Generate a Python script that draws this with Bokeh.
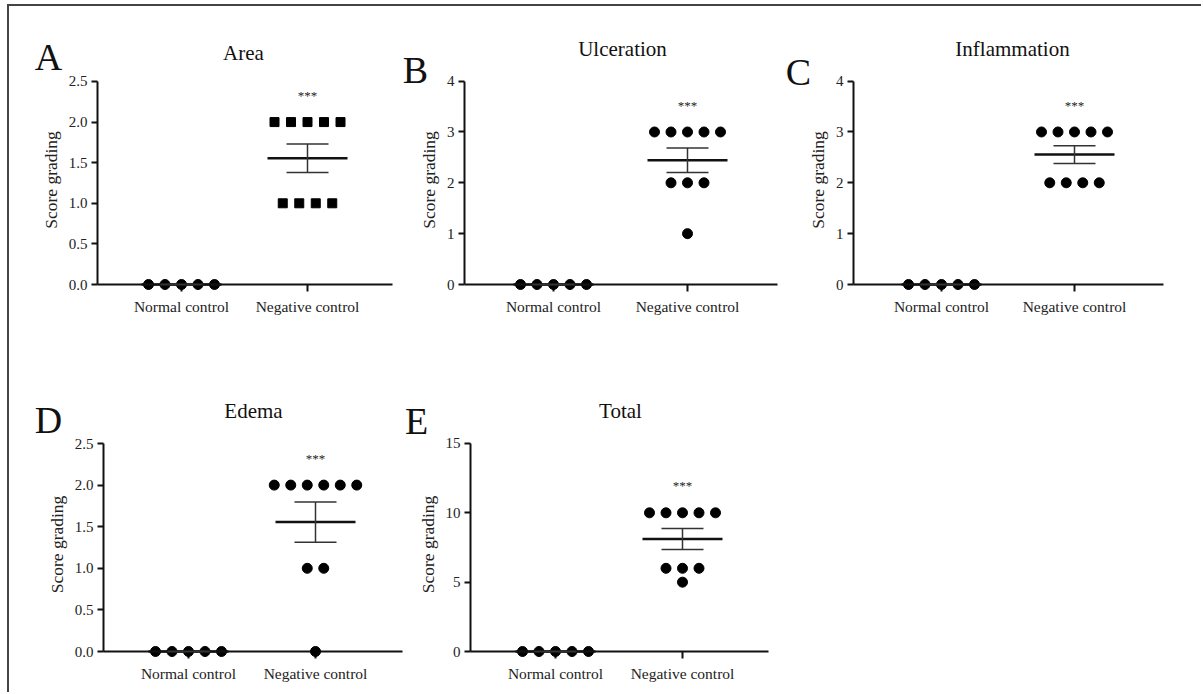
from bokeh.plotting import figure
from bokeh.models import Range1d, FixedTicker, NumeralTickFormatter
from bokeh.layouts import row, column
from bokeh.embed import file_html
from bokeh.resources import INLINE
from bokeh.core.properties import value
import numpy as np

# ---------------- data ----------------
categories = ["Normal control", "Negative control"]
panel_letters = ["A", "B", "C", "D", "E"]
panel_titles = ["Area", "Ulceration", "Inflammation", "Edema", "Total"]
significance = "***"

area_normal = [0, 0, 0, 0, 0]
area_negative = [2, 2, 2, 2, 2, 1, 1, 1, 1]
ulceration_normal = [0, 0, 0, 0, 0]
ulceration_negative = [3, 3, 3, 3, 3, 2, 2, 2, 1]
inflammation_normal = [0, 0, 0, 0, 0]
inflammation_negative = [3, 3, 3, 3, 3, 2, 2, 2, 2]
edema_normal = [0, 0, 0, 0, 0]
edema_negative = [2, 2, 2, 2, 2, 2, 1, 1, 0]
total_normal = [0, 0, 0, 0, 0]
total_negative = [10, 10, 10, 10, 10, 6, 6, 6, 5]

area_ticks = [0, 0.5, 1.0, 1.5, 2.0, 2.5]
ulceration_ticks = [0, 1, 2, 3, 4]
inflammation_ticks = [0, 1, 2, 3, 4]
edema_ticks = [0, 0.5, 1.0, 1.5, 2.0, 2.5]
total_ticks = [0, 5, 10, 15]

SERIF = "Liberation Serif"
INK = "#111111"


def beeswarm(vals, center, step):
    vals = np.asarray(vals, dtype=float)
    xs = np.zeros(len(vals))
    for v in np.unique(vals):
        idx = np.where(vals == v)[0]
        k = len(idx)
        xs[idx] = center + (np.arange(k) - (k - 1) / 2.0) * step
    return xs


def make_panel(letter, title, normal, negative, ticks, fmt, neg_marker, geo):
    fx, fy, w, h = geo["fig"]
    ax, ar = geo["axis_x"], geo["axis_right"]
    top_px, zero_px = geo["top_px"], geo["zero_px"]
    c1, c2 = geo["cats_px"]
    ymax = ticks[-1]

    ux = float(c2 - c1)
    x0 = 1 - (c1 - ax) / ux
    x1 = 2 + (ar - c2) / ux
    uy = (zero_px - top_px) / ymax
    frame_top = top_px - 6
    y1 = ymax + (top_px - frame_top) / uy

    def dx(px):
        return x0 + (px - ax) / ux

    def dy(py):
        return (zero_px - py) / uy

    p = figure(width=w, height=h, x_range=Range1d(x0, x1), y_range=Range1d(0, y1),
               output_backend="svg", toolbar_location=None,
               min_border_left=ax - fx, min_border_right=fx + w - ar,
               min_border_top=frame_top - fy, min_border_bottom=fy + h - zero_px)
    p.xgrid.visible = False
    p.ygrid.visible = False
    p.outline_line_color = None
    p.background_fill_color = "white"
    p.border_fill_color = "white"

    # axes
    for a in (p.xaxis[0], p.yaxis[0]):
        a.axis_line_width = 2
        a.axis_line_color = INK
        a.major_tick_line_width = 2
        a.major_tick_line_color = INK
        a.major_tick_in = 0
        a.minor_tick_line_color = None
        a.major_label_text_font = SERIF
        a.major_label_text_color = "#222222"
    p.xaxis.ticker = FixedTicker(ticks=[1, 2])
    p.xaxis.major_label_overrides = {1: categories[0], 2: categories[1]}
    p.xaxis.major_tick_out = 7
    p.xaxis.major_label_standoff = 6
    p.xaxis.major_label_text_font_size = "15.5px"

    p.yaxis.ticker = FixedTicker(ticks=ticks)
    p.yaxis.formatter = NumeralTickFormatter(format=fmt)
    p.yaxis.bounds = (0, ymax)
    p.yaxis.major_tick_out = 6
    p.yaxis.major_label_standoff = 4
    p.yaxis.major_label_text_font_size = "15px"
    p.yaxis.axis_label = "Score grading"
    p.yaxis.axis_label_text_font = SERIF
    p.yaxis.axis_label_text_font_style = "normal"
    p.yaxis.axis_label_text_font_size = "17.5px"
    p.yaxis.axis_label_text_color = "#222222"
    p.yaxis.axis_label_standoff = 5

    step = 16.5 / ux
    # points
    xs_n = beeswarm(normal, 1, step)
    xs_g = beeswarm(negative, 2, step)
    p.scatter(xs_n, normal, marker="circle", size=10, fill_color="black",
              line_color="black", level="overlay")
    p.scatter(xs_g, negative, marker=neg_marker, size=10 if neg_marker == "circle" else 9,
              fill_color="black", line_color="black", level="overlay")

    # mean +/- SEM
    for cx, vals in ((1, normal), (2, negative)):
        v = np.asarray(vals, dtype=float)
        m = v.mean()
        sem = v.std(ddof=1) / np.sqrt(len(v))
        hw, cw = 40 / ux, 21 / ux
        p.segment(x0=[cx - hw], y0=[m], x1=[cx + hw], y1=[m], line_width=2.5,
                  line_color=INK, level="overlay")
        p.segment(x0=[cx, cx - cw, cx - cw], y0=[m - sem, m - sem, m + sem],
                  x1=[cx, cx + cw, cx + cw], y1=[m + sem, m - sem, m + sem],
                  line_width=1.5, line_color="#333333", level="overlay")

    # significance stars
    p.text(x=[2], y=[max(negative) + 0.13 * ymax], text=[significance],
           text_font=value(SERIF), text_font_size="13px", text_align="center",
           text_baseline="middle", text_color="#222222", level="overlay")

    # title and panel letter
    tx, ty = geo["title_px"]
    p.text(x=[dx(tx)], y=[dy(ty)], text=[title], text_font=value(SERIF),
           text_font_size="21px", text_align="center", text_baseline="middle",
           text_color="#111111", level="overlay")
    lx, ly = geo["letter_px"]
    p.text(x=[dx(lx)], y=[dy(ly)], text=[letter], text_font=value(SERIF),
           text_font_size="38px", text_align="center", text_baseline="middle",
           text_color="#111111", level="overlay")
    return p


# page coordinates (content starts at x=9, y=6 after the frame lines)
geos = [
    dict(fig=(9, 6, 391, 324), axis_x=97, axis_right=392, top_px=81, zero_px=285,
         cats_px=(181, 307), title_px=(243, 52), letter_px=(48, 56)),
    dict(fig=(400, 6, 380, 324), axis_x=464, axis_right=777, top_px=69, zero_px=285,
         cats_px=(553, 687), title_px=(622, 35), letter_px=(415, 57)),
    dict(fig=(780, 6, 421, 324), axis_x=853, axis_right=1163, top_px=67, zero_px=284,
         cats_px=(941, 1074), title_px=(1012, 33), letter_px=(798, 57)),
    dict(fig=(9, 330, 394, 362), axis_x=103, axis_right=402, top_px=443, zero_px=651,
         cats_px=(188, 315), title_px=(253, 410), letter_px=(48, 419)),
    dict(fig=(403, 330, 382, 362), axis_x=470, axis_right=768, top_px=443, zero_px=652,
         cats_px=(555, 682), title_px=(620, 410), letter_px=(416, 420)),
]

pa = make_panel(panel_letters[0], panel_titles[0], area_normal, area_negative,
                area_ticks, "0.0", "square", geos[0])
pb = make_panel(panel_letters[1], panel_titles[1], ulceration_normal, ulceration_negative,
                ulceration_ticks, "0", "circle", geos[1])
pc = make_panel(panel_letters[2], panel_titles[2], inflammation_normal, inflammation_negative,
                inflammation_ticks, "0", "circle", geos[2])
pd = make_panel(panel_letters[3], panel_titles[3], edema_normal, edema_negative,
                edema_ticks, "0.0", "circle", geos[3])
pe = make_panel(panel_letters[4], panel_titles[4], total_normal, total_negative,
                total_ticks, "0", "circle", geos[4])

layout = column(row(pa, pb, pc), row(pd, pe),
                styles={"border-top": "2px solid #444444", "border-left": "2px solid #444444",
                        "margin-left": "7px", "margin-top": "4px"})

open("out.html", "w").write(file_html(layout, INLINE))
